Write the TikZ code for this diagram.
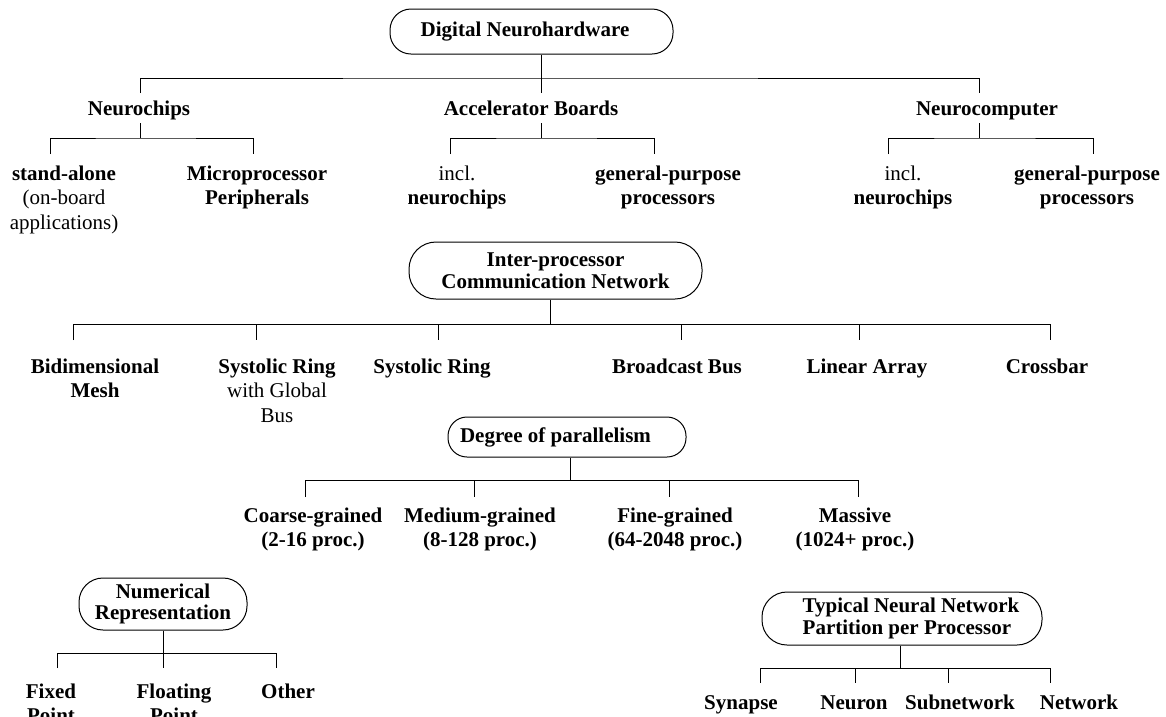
\documentclass[tikz,border=0pt]{standalone}
\usepackage{fontspec}
\setmainfont{Liberation Serif}
\newcommand\fsz{\fontsize{21}{24.5}\selectfont}
\newcommand\fbx{\fontsize{21}{21.5}\selectfont}
\newcommand\stk[1]{\begin{tabular}[t]{@{}c@{}}#1\end{tabular}}
\begin{document}
\begin{tikzpicture}[x=1pt,y=-1pt,
  wire/.style={line width=1pt},
  lbl/.style={font=\fsz\bfseries, inner sep=0pt, anchor=base},
  box/.style={draw, line width=1pt, font=\fbx\bfseries, inner sep=0pt, align=center}]
\useasboundingbox (0,0) rectangle (1166,716);

% ---------- Digital Neurohardware ----------
\node[box, minimum width=283pt, minimum height=45pt, rounded corners=21pt] (dig) at (531.5,31.5) {Digital Neurohardware\hspace*{13pt}};
\node[lbl] (nchips) at (139,115) {Neurochips};
\node[lbl] (accel) at (531,115) {Accelerator Boards};
\node[lbl] (ncomp) at (987,115) {Neurocomputer};

\node[lbl] (sa) at (64,180) {\stk{stand-alone\\\mdseries(on-board\\\mdseries applications)}};
\node[lbl] (mp) at (257,180) {\stk{Microprocessor\\Peripherals}};
\node[lbl] (an) at (457,180) {\stk{\mdseries incl.\\neurochips}};
\node[lbl] (ag) at (668,180) {\stk{general-purpose\\processors}};
\node[lbl] (cn) at (903,180) {\stk{\mdseries incl.\\neurochips}};
\node[lbl] (cg) at (1087,180) {\stk{general-purpose\\processors}};

\coordinate (a0) at (541,78);
\coordinate (a1) at (140,93); \coordinate (a2) at (541,93); \coordinate (a3) at (979,93);
\draw[wire] (dig.south -| a0) -- (a2);
\draw[wire] (a1) |- (a0) -| (a3);

\coordinate (b0) at (140,123); \coordinate (b1) at (140,138);
\coordinate (b2) at (50,154); \coordinate (b3) at (253,154);
\draw[wire] (b0) -- (b1);
\draw[wire] (b2) |- (b1) -| (b3);

\coordinate (d0) at (541,123); \coordinate (d1) at (541,138);
\coordinate (d2) at (450,154); \coordinate (d3) at (654,154);
\draw[wire] (d0) -- (d1);
\draw[wire] (d2) |- (d1) -| (d3);

\coordinate (e0) at (979,123); \coordinate (e1) at (979,138);
\coordinate (e2) at (888,154); \coordinate (e3) at (1093,154);
\draw[wire] (e0) -- (e1);
\draw[wire] (e2) |- (e1) -| (e3);

% ---------- Inter-processor Communication Network ----------
\node[box, minimum width=293pt, minimum height=57pt, rounded corners=27pt] (ipc) at (555.5,270.5) {Inter-processor\\Communication Network};
\node[lbl] (mesh) at (95,373) {\stk{Bidimensional\\Mesh}};
\node[lbl] (srg) at (277,373) {\stk{Systolic Ring\\\mdseries with Global\\\mdseries Bus}};
\node[lbl] (sr) at (432,373) {Systolic Ring};
\node[lbl] (bb) at (677,373) {Broadcast Bus};
\node[lbl] (la) at (867,373) {Linear Array};
\node[lbl] (cb) at (1047,373) {Crossbar};

\coordinate (c0) at (550,324);
\coordinate (c1) at (73,340); \coordinate (c2) at (256,340); \coordinate (c3) at (438,340);
\coordinate (c4) at (681,340); \coordinate (c5) at (859,340); \coordinate (c6) at (1050,340);
\draw[wire] (ipc.south -| c0) -- (c0);
\draw[wire] (c1) |- (c0) -| (c6);
\foreach \c in {c2,c3,c4,c5} \draw[wire] (\c |- c0) -- (\c);

% ---------- Degree of parallelism ----------
\node[box, minimum width=238pt, minimum height=40pt, rounded corners=19pt] (dop) at (567,437) {Degree of parallelism\hspace*{23pt}};
\node[lbl] (coarse) at (313,522) {\stk{Coarse-grained\\(2-16 proc.)}};
\node[lbl] (medium) at (480,522) {\stk{Medium-grained\\(8-128 proc.)}};
\node[lbl] (fine) at (675,522) {\stk{Fine-grained\\(64-2048 proc.)}};
\node[lbl] (massive) at (855,522) {\stk{Massive\\(1024+ proc.)}};

\coordinate (f0) at (570,480);
\coordinate (f1) at (305,497); \coordinate (f2) at (474,497);
\coordinate (f3) at (669,497); \coordinate (f4) at (858,497);
\draw[wire] (dop.south -| f0) -- (f0);
\draw[wire] (f1) |- (f0) -| (f4);
\foreach \c in {f2,f3} \draw[wire] (\c |- f0) -- (\c);

% ---------- Numerical Representation ----------
\node[box, minimum width=168pt, minimum height=52pt, rounded corners=24pt] (num) at (163,604) {Numerical\\Representation};
\node[lbl] (fixed) at (51,698) {\stk{Fixed\\Point}};
\node[lbl] (float) at (174,698) {\stk{Floating\\Point}};
\node[lbl] (other) at (288,698) {Other};

\coordinate (g0) at (163,653);
\coordinate (g1) at (57,668); \coordinate (g2) at (163,668); \coordinate (g3) at (276,668);
\draw[wire] (num.south -| g0) -- (g2);
\draw[wire] (g1) |- (g0) -| (g3);

% ---------- Typical Neural Network Partition per Processor ----------
\node[box, align=left, minimum width=280pt, minimum height=53pt, rounded corners=25pt] (tnn) at (902,618.5) {\hspace*{18pt}Typical Neural Network\\\hspace*{18pt}Partition per Processor};
\node[lbl] (syn) at (741,709) {Synapse};
\node[lbl] (neu) at (854,709) {Neuron};
\node[lbl] (sub) at (960,709) {Subnetwork};
\node[lbl] (net) at (1079,709) {Network};

\coordinate (h0) at (900,668);
\coordinate (h1) at (760,683); \coordinate (h2) at (855,683);
\coordinate (h3) at (948,683); \coordinate (h4) at (1050,683);
\draw[wire] (tnn.south -| h0) -- (h0);
\draw[wire] (h1) |- (h0) -| (h4);
\foreach \c in {h2,h3} \draw[wire] (\c |- h0) -- (\c);
\end{tikzpicture}
\end{document}
